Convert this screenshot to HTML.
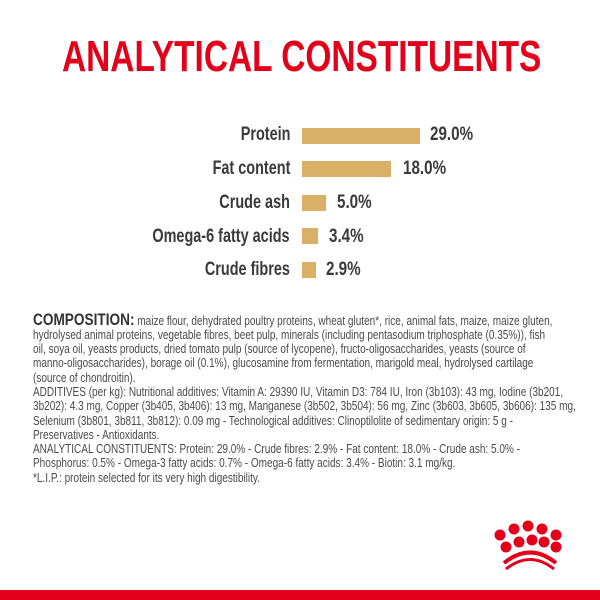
<!DOCTYPE html>
<html><head><style>
body{margin:0;width:600px;height:600px;background:#fff;position:relative;overflow:hidden;font-family:"Liberation Sans",sans-serif}
.t{position:absolute;white-space:nowrap;transform-origin:left top}
.title{left:62px;top:32px;font-size:44px;font-weight:bold;color:#e2001a;transform:scaleX(0.76)}
.lab{position:absolute;right:310px;font-size:19px;font-weight:bold;color:#3a3a3a;white-space:nowrap;transform:scaleX(0.76);transform-origin:right center}
.bar{position:absolute;left:302px;height:16px;background:#d9b066}
.val{position:absolute;font-size:19px;font-weight:bold;color:#3a3a3a;transform:scaleX(0.8);transform-origin:left center}
.c{font-size:12.5px;color:#4a4a4a;transform:scaleX(0.802);left:33px}
</style></head><body>
<div class="t title">ANALYTICAL CONSTITUENTS</div>

<div class="lab" style="top:124px">Protein</div><div class="bar" style="top:128px;width:118px"></div><div class="val" style="left:430px;top:124px">29.0%</div>
<div class="lab" style="top:158px">Fat content</div><div class="bar" style="top:161px;width:89px"></div><div class="val" style="left:403px;top:158px">18.0%</div>
<div class="lab" style="top:192px">Crude ash</div><div class="bar" style="top:195px;width:24px"></div><div class="val" style="left:337px;top:192px">5.0%</div>
<div class="lab" style="top:226px">Omega-6 fatty acids</div><div class="bar" style="top:228px;width:16px"></div><div class="val" style="left:329px;top:226px">3.4%</div>
<div class="lab" style="top:259px">Crude fibres</div><div class="bar" style="top:262px;width:14px"></div><div class="val" style="left:326px;top:259px">2.9%</div>

<div class="t c" style="top:310px"><b style="font-size:17px;color:#333">COMPOSITION:</b> maize flour, dehydrated poultry proteins, wheat gluten*, rice, animal fats, maize, maize gluten,</div>
<div class="t c" style="top:328px">hydrolysed animal proteins, vegetable fibres, beet pulp, minerals (including pentasodium triphosphate (0.35%)), fish</div>
<div class="t c" style="top:342px">oil, soya oil, yeasts products, dried tomato pulp (source of lycopene), fructo-oligosaccharides, yeasts (source of</div>
<div class="t c" style="top:356px">manno-oligosaccharides), borage oil (0.1%), glucosamine from fermentation, marigold meal, hydrolysed cartilage</div>
<div class="t c" style="top:371px">(source of chondroitin).</div>
<div class="t c" style="top:385px">ADDITIVES (per kg): Nutritional additives: Vitamin A: 29390 IU, Vitamin D3: 784 IU, Iron (3b103): 43 mg, Iodine (3b201,</div>
<div class="t c" style="top:399px">3b202): 4.3 mg, Copper (3b405, 3b406): 13 mg, Manganese (3b502, 3b504): 56 mg, Zinc (3b603, 3b605, 3b606): 135 mg,</div>
<div class="t c" style="top:414px">Selenium (3b801, 3b811, 3b812): 0.09 mg - Technological additives: Clinoptilolite of sedimentary origin: 5 g -</div>
<div class="t c" style="top:428px">Preservatives - Antioxidants.</div>
<div class="t c" style="top:442px">ANALYTICAL CONSTITUENTS: Protein: 29.0% - Crude fibres: 2.9% - Fat content: 18.0% - Crude ash: 5.0% -</div>
<div class="t c" style="top:456px">Phosphorus: 0.5% - Omega-3 fatty acids: 0.7% - Omega-6 fatty acids: 3.4% - Biotin: 3.1 mg/kg.</div>
<div class="t c" style="top:471px">*L.I.P.: protein selected for its very high digestibility.</div>

<svg style="position:absolute;left:490px;top:520px" width="80" height="60" viewBox="0 0 80 60">
<g fill="#e2001a">
<circle cx="10" cy="15" r="5.5"/><circle cx="24" cy="9" r="5.5"/><circle cx="38" cy="6" r="5.5"/><circle cx="52" cy="9" r="5.5"/><circle cx="66" cy="15" r="5.5"/>
<circle cx="16" cy="27" r="5.5"/><circle cx="29" cy="22" r="5.5"/><circle cx="42" cy="20" r="5.5"/><circle cx="54" cy="22" r="5.5"/><circle cx="66" cy="27" r="5.5"/>
</g>
<path d="M14 43 Q40 22 66 43" stroke="#e2001a" stroke-width="4" fill="none"/>
<path d="M16 49 Q40 30 64 49" stroke="#e2001a" stroke-width="3" fill="none"/>
</svg>
<div style="position:absolute;left:0;top:590px;width:600px;height:10px;background:#e2001a"></div>
</body></html>
